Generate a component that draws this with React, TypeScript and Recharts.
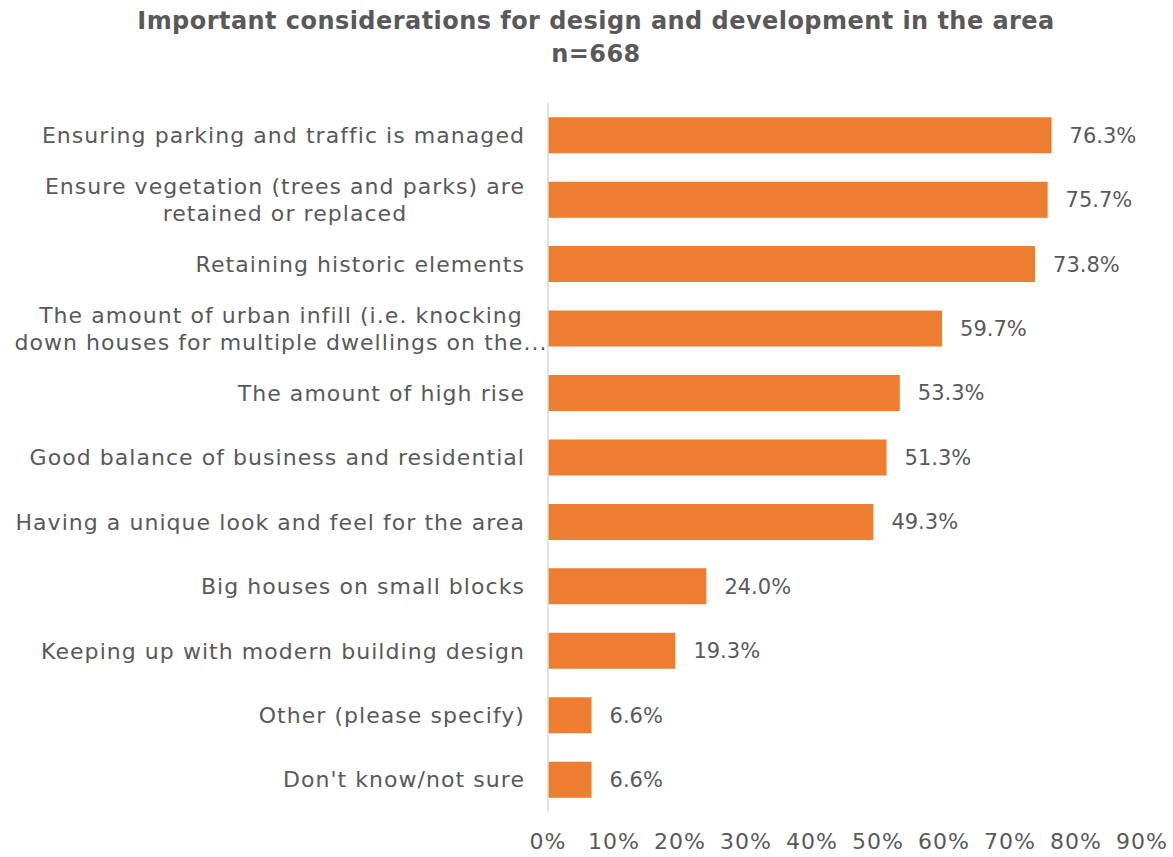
import React from 'react';
import { BarChart, Bar, XAxis, YAxis, LabelList } from 'recharts';

const categories: string[] = [
  'Ensuring parking and traffic is managed',
  'Ensure vegetation (trees and parks) are\nretained or replaced',
  'Retaining historic elements',
  'The amount of urban infill (i.e. knocking\ndown houses for multiple dwellings on the...',
  'The amount of high rise',
  'Good balance of business and residential',
  'Having a unique look and feel for the area',
  'Big houses on small blocks',
  'Keeping up with modern building design',
  'Other (please specify)',
  "Don't know/not sure",
];

const values: number[] = [76.3, 75.7, 73.8, 59.7, 53.3, 51.3, 49.3, 24.0, 19.3, 6.6, 6.6];

const xTicks: number[] = [0, 10, 20, 30, 40, 50, 60, 70, 80, 90];

const titleLine1 = 'Important considerations for design and development in the area';
const titleLine2 = 'n=668';

const data = categories.map((c, i) => ({ name: c, value: values[i] }));

const FONT = '"DejaVu Sans", sans-serif';
const TEXT = '#595959';
const FS = 22;
const LS = 1.05;

let ctx: CanvasRenderingContext2D | null = null;
function measure(s: string): number {
  if (!ctx) {
    const c = document.createElement('canvas');
    ctx = c.getContext('2d');
  }
  if (!ctx) return s.length * (FS * 0.55 + LS);
  ctx.font = `${FS}px "DejaVu Sans"`;
  return ctx.measureText(s).width + LS * s.length;
}

const YTick = (props: any) => {
  const { x, y, payload } = props;
  const lines: string[] = String(payload.value).split('\n');
  const right = x - 23;
  if (lines.length === 1) {
    return (
      <text
        x={right}
        y={y}
        dy="0.35em"
        textAnchor="end"
        fill={TEXT}
        fontSize={FS}
        fontFamily={FONT}
        style={{ letterSpacing: `${LS}px` }}
      >
        {lines[0]}
      </text>
    );
  }
  const maxW = Math.max(...lines.map(measure));
  const cx = right - Math.min(maxW, 488) / 2;
  const lh = 27;
  const start = y - ((lines.length - 1) * lh) / 2;
  return (
    <text textAnchor="middle" fill={TEXT} fontSize={FS} fontFamily={FONT} style={{ letterSpacing: `${LS}px` }}>
      {lines.map((l, i) => (
        <tspan key={i} x={cx} y={start + i * lh} dy="0.35em">
          {l}
        </tspan>
      ))}
    </text>
  );
};

export default function App() {
  return (
    <div style={{ position: 'absolute', left: 0, top: 0, width: 1173, height: 857, background: '#fff' }}>
      <div
        style={{
          position: 'absolute',
          left: 596,
          top: 5,
          transform: 'translateX(-50%)',
          whiteSpace: 'nowrap',
          textAlign: 'center',
          fontFamily: FONT,
          fontWeight: 'bold',
          fontSize: 24,
          letterSpacing: '0.45px',
          lineHeight: '33px',
          color: TEXT,
        }}
      >
        <div>{titleLine1}</div>
        <div>{titleLine2}</div>
      </div>
      <BarChart
        width={1173}
        height={857}
        data={data}
        layout="vertical"
        margin={{ top: 103, right: 31, bottom: 0, left: 0 }}
        barCategoryGap="22%"
      >
        <XAxis
          type="number"
          domain={[0, 90]}
          ticks={xTicks}
          tickFormatter={(v: number) => `${v}%`}
          axisLine={false}
          tickLine={false}
          tickSize={0}
          tickMargin={21}
          height={45}
          interval={0}
          tick={{ fill: TEXT, fontSize: 22, fontFamily: FONT, style: { letterSpacing: '1px' } }}
        />
        <YAxis
          type="category"
          dataKey="name"
          width={548}
          axisLine={{ stroke: '#d9d9d9', strokeWidth: 1.5 }}
          tickLine={false}
          tickSize={0}
          tickMargin={0}
          interval={0}
          tick={<YTick />}
        />
        <Bar dataKey="value" fill="#ED7D31" isAnimationActive={false}>
          <LabelList
            dataKey="value"
            position="right"
            offset={18}
            formatter={(v: any) => `${Number(v).toFixed(1)}%`}
            fill={TEXT}
            fontSize={21}
            fontFamily={FONT}
          />
        </Bar>
      </BarChart>
    </div>
  );
}
